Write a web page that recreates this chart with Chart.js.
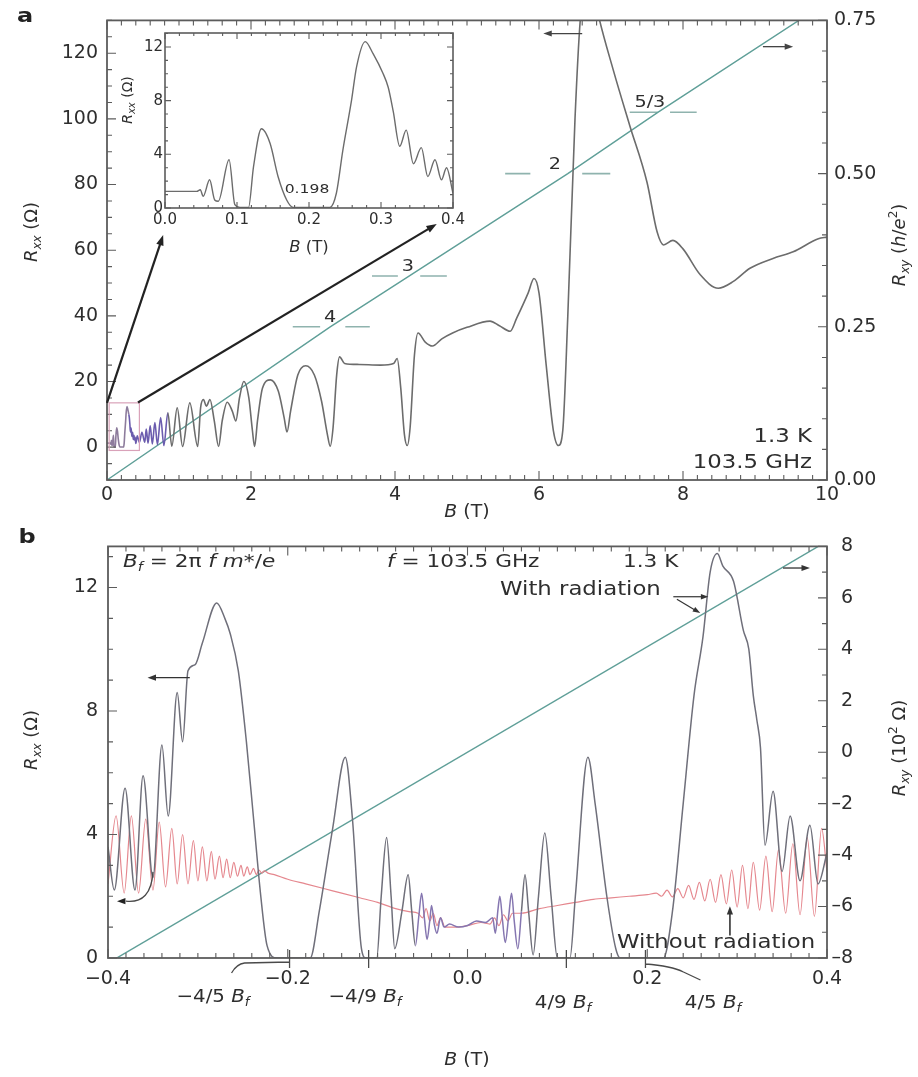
<!DOCTYPE html>
<html>
<head>
<meta charset="utf-8">
<title>Rxx and Rxy versus B with and without microwave radiation</title>
<script src="https://cdn.jsdelivr.net/npm/chart.js@4.4.0/dist/chart.umd.min.js"></script>
<style>
  body { margin: 0; background: #ffffff; }
  #wrap { position: relative; width: 918px; height: 1077px; }
  canvas { position: absolute; }
</style>
</head>
<body>
<div id="wrap">
  <canvas id="chartA" width="918" height="525" style="left:0;top:0"></canvas>
  <canvas id="inset" width="370" height="240" style="left:100px;top:20px"></canvas>
  <canvas id="chartB" width="918" height="552" style="left:0;top:525px"></canvas>
</div>
<script>
"use strict"

// ---- panel a, inset: Rxx (ohm) at low field B (T)
const insetB = [0, 0.02, 0.044, 0.049, 0.053, 0.062, 0.069, 0.074, 0.089, 0.097,
  0.104, 0.116, 0.123, 0.134, 0.146, 0.157, 0.169, 0.178, 0.229, 0.238,
  0.247, 0.259, 0.266, 0.278, 0.289, 0.303, 0.310, 0.317, 0.326, 0.335,
  0.345, 0.356, 0.365, 0.375, 0.384, 0.391, 0.400];
const insetR = [1.24, 1.24, 1.24, 1.36, 0.87, 2.1, 0.6, 0.5, 3.6, 0.25,
  0.05, 0.05, 3.1, 5.9, 4.8, 2.35, 0.6, 0.05, 0.05, 1.1,
  4.3, 8.0, 10.5, 12.4, 11.5, 10.0, 9.0, 7.2, 4.6, 5.8,
  3.3, 4.5, 2.35, 3.6, 2.1, 3.0, 1.1];

// ---- panel a: Rxx (ohm) above 0.4 T
const fieldB = [0.42, 0.45, 0.485, 0.525, 0.545, 0.57, 0.60, 0.63, 0.665, 0.70,
  0.745, 0.79, 0.845, 0.90, 0.975, 1.05, 1.15, 1.26, 1.30, 1.34,
  1.38, 1.43, 1.49, 1.55, 1.60, 1.67, 1.74, 1.79, 1.84, 1.90,
  1.97, 2.02, 2.05, 2.09, 2.16, 2.27, 2.38, 2.46, 2.50, 2.55,
  2.65, 2.76, 2.88, 2.98, 3.06, 3.10, 3.14, 3.19, 3.23, 3.30,
  3.50, 3.80, 3.98, 4.03, 4.08, 4.13, 4.17, 4.21, 4.27, 4.32,
  4.42, 4.52, 4.65, 4.80, 5.00, 5.32, 5.45, 5.60, 5.69, 5.85,
  5.93, 6.00, 6.10, 6.20, 6.27, 6.33, 6.40, 6.50, 6.58, 6.70,
  6.82, 7.03, 7.26, 7.50, 7.64, 7.73, 7.86, 8.00, 8.24, 8.49,
  8.70, 8.93, 9.25, 9.53, 9.88, 10.0];
const fieldR = [3.5, 1.5, 4.5, 1.5, 5.5, 1.2, 6.5, 1.0, 7.5, 0.8,
  9.0, 0.5, 10.5, 0.3, 12.0, 0.2, 13.5, 0.2, 12.0, 14.5,
  12.5, 14.5, 8.0, 0.2, 8.0, 13.7, 11.0, 8.0, 15.0, 20.0,
  15.0, 5.0, 0.2, 8.0, 18.0, 20.5, 17.0, 9.0, 4.6, 11.0,
  22.0, 24.8, 22.0, 14.0, 4.0, 0.3, 6.0, 22.0, 27.5, 25.5,
  25.2, 25.0, 25.5, 27.0, 18.0, 4.0, 0.5, 6.0, 28.0, 34.8,
  32.0, 30.8, 33.0, 34.8, 36.5, 38.4, 37.0, 35.3, 39.3, 47.0,
  51.4, 47.0, 25.0, 5.0, 0.5, 5.0, 40.0, 100.0, 132.0, 145.0,
  132.0, 115.0, 98.0, 80.7, 65.6, 61.6, 63.0, 60.4, 52.5, 48.4,
  50.5, 54.5, 57.5, 59.5, 63.5, 64.0];

// ---- panel a: Hall resistance (h/e^2)
const hallAB = [0, 3.1, 4.2, 6.4, 7.65, 10];
const hallAR = [0, 0.25, 0.333, 0.5, 0.6, 0.78];

// ---- panel a: quantum Hall plateau markers
const markerText = ["4", "3", "2", "5/3"];
const markerLevel = [0.25, 0.333, 0.5, 0.6];
const markerFrom = [2.58, 3.68, 5.53, 7.26];
const markerGapL = [2.96, 4.04, 5.88, 7.65];
const markerGapR = [3.31, 4.35, 6.60, 7.82];
const markerTo = [3.65, 4.72, 6.99, 8.19];
const markerTextB = [3.1, 4.18, 6.22, 7.54];

// ---- panel b: Rxx (ohm) with radiation
const withB = [-0.400, -0.393, -0.381, -0.370, -0.361, -0.350, -0.340, -0.333, -0.323, -0.317,
  -0.311, -0.303, -0.295, -0.279, -0.270, -0.264, -0.255, -0.246, -0.238, -0.230,
  -0.223, -0.212, -0.175, -0.165, -0.150, -0.136, -0.128, -0.118, -0.113, -0.101,
  -0.096, -0.090, -0.085, -0.081, -0.073, -0.066, -0.062, -0.058, -0.054, -0.051,
  -0.048, -0.045, -0.042, -0.040, -0.037, -0.034, -0.030, -0.026, -0.020, -0.010,
  0.000, 0.010, 0.020, 0.028, 0.031, 0.034, 0.036, 0.039, 0.042, 0.046,
  0.049, 0.052, 0.056, 0.060, 0.064, 0.068, 0.073, 0.079, 0.086, 0.093,
  0.100, 0.114, 0.120, 0.134, 0.142, 0.155, 0.165, 0.170, 0.218, 0.228,
  0.240, 0.252, 0.262, 0.270, 0.278, 0.284, 0.296, 0.307, 0.313, 0.318,
  0.322, 0.326, 0.331, 0.340, 0.350, 0.359, 0.370, 0.381, 0.390, 0.400];
const withR = [3.6, 2.2, 5.5, 2.2, 5.9, 2.6, 6.9, 4.6, 8.6, 7.0,
  9.3, 9.5, 10.2, 11.5, 11.0, 10.5, 9.3, 7.0, 4.5, 2.0,
  0.4, 0, 0, 1.5, 4.2, 6.5, 4.5, 0.3, 0, 0,
  2.0, 3.9, 2.0, 0.3, 1.5, 2.7, 1.5, 0.4, 1.4, 2.1,
  1.3, 0.6, 1.2, 1.7, 1.1, 0.8, 1.3, 1.0, 1.1, 1.0,
  1.05, 1.2, 1.15, 1.3, 0.8, 1.6, 2.0, 1.2, 0.5, 1.4,
  2.1, 1.2, 0.3, 1.5, 2.7, 1.5, 0.1, 2.0, 4.05, 2.0,
  0, 0, 2.0, 6.5, 5.0, 2.0, 0.3, 0, 0, 1.5,
  5.0, 8.5, 10.4, 12.5, 13.1, 12.7, 12.2, 10.6, 10.0, 8.5,
  7.7, 6.8, 3.65, 5.4, 2.8, 4.6, 2.5, 4.3, 2.4, 3.4];

// ---- panel b: Rxx (ohm) without radiation
const darkB = [-0.400, -0.391, -0.382, -0.374, -0.366, -0.358, -0.350, -0.343, -0.336, -0.329,
  -0.323, -0.317, -0.311, -0.305, -0.300, -0.295, -0.290, -0.285, -0.281, -0.276,
  -0.272, -0.268, -0.264, -0.260, -0.256, -0.252, -0.249, -0.245, -0.242, -0.238,
  -0.235, -0.232, -0.229, -0.226, -0.222, -0.215, -0.200, -0.180, -0.160, -0.140,
  -0.120, -0.100, -0.080, -0.065, -0.055, -0.050, -0.046, -0.042, -0.038, -0.034,
  -0.030, -0.025, -0.015, 0.000, 0.015, 0.025, 0.030, 0.035, 0.040, 0.045,
  0.050, 0.060, 0.080, 0.100, 0.120, 0.140, 0.160, 0.180, 0.200, 0.210,
  0.216, 0.222, 0.228, 0.234, 0.240, 0.246, 0.252, 0.258, 0.264, 0.270,
  0.276, 0.282, 0.288, 0.294, 0.300, 0.306, 0.312, 0.318, 0.325, 0.332,
  0.339, 0.346, 0.354, 0.362, 0.370, 0.378, 0.386, 0.394, 0.400];
const darkR = [2.4, 4.6, 2.1, 4.6, 2.1, 4.5, 2.2, 4.4, 2.3, 4.2,
  2.4, 4.0, 2.4, 3.8, 2.5, 3.6, 2.5, 3.45, 2.55, 3.3,
  2.6, 3.2, 2.6, 3.1, 2.65, 3.0, 2.65, 2.95, 2.7, 2.9,
  2.7, 2.85, 2.75, 2.82, 2.75, 2.7, 2.55, 2.4, 2.25, 2.1,
  1.95, 1.8, 1.6, 1.5, 1.45, 1.3, 1.6, 1.2, 1.45, 1.05,
  1.3, 1.0, 1.0, 1.05, 1.15, 1.1, 1.3, 1.05, 1.4, 1.2,
  1.45, 1.45, 1.6, 1.7, 1.8, 1.9, 1.95, 2.0, 2.05, 2.1,
  2.0, 2.2, 1.98, 2.25, 1.95, 2.35, 1.9, 2.45, 1.85, 2.55,
  1.8, 2.7, 1.75, 2.85, 1.65, 3.0, 1.6, 3.1, 1.55, 3.3,
  1.5, 3.5, 1.45, 3.7, 1.4, 3.9, 1.35, 4.2, 2.8];

// ---- panel b: Hall resistance (10^2 ohm)
const hallBB = [-0.40, 0.40];
const hallBR = [-8.2, 8.2];

// ---- tick labels
const aXTicks = [0, 2, 4, 6, 8, 10];
const aLeftTicks = [0, 20, 40, 60, 80, 100, 120];
const aRightTicks = [0, 0.25, 0.5, 0.75];
const insetXTicks = [0, 0.1, 0.2, 0.3, 0.4];
const insetYTicks = [0, 4, 8, 12];
const bXTicks = [-0.4, -0.2, 0, 0.2, 0.4];
const bLeftTicks = [0, 4, 8, 12];
const bRightTicks = [-8, -6, -4, -2, 0, 2, 4, 6, 8];
const fracB = [-0.198, -0.110, 0.110, 0.198];
const fracText = ["\u22124/5 ", "\u22124/9 ", "4/9 ", "4/5 "];

const FONT = "'DejaVu Sans', 'Liberation Sans', sans-serif";
const TEXT = "#2e2e2e";
const GRAY = "#6c6c6c";
const TEAL = "#5f9f98";
const PINK = "#e5878e";

Chart.defaults.font.family = FONT;
Chart.defaults.color = TEXT;

function pts(xs, ys) {
    return xs.map((v, i) => ({x: v, y: ys[i]}));
}

// minor tick positions
function steps(from, to, step) {
    const out = [];
    for (let v = from; v <= to + step / 1000; v += step) {
        out.push(Math.round(v * 1e6) / 1e6);
    }
    return out;
}

function minus(txt) {
    return txt.replace("-", "\u2212");
}

// shorter dash for the right axis, as in the print
function dash(txt) {
    return txt.replace("-", "\u2013");
}

function axis(min, max, values, fmt, size, pad, fit, extra) {
    const base = {
        type: "linear",
        min: min,
        max: max,
        grid: {display: false, drawTicks: false},
        border: {display: false},
        afterBuildTicks: s => { s.ticks = values.map(v => ({value: v})); },
        afterFit: fit,
        ticks: {autoSkip: false, maxRotation: 0, padding: pad, color: TEXT,
            font: {size: size, family: FONT}, callback: fmt}
    };
    if (extra && extra.crossAlign) base.ticks.crossAlign = extra.crossAlign;
    if (extra) base.position = extra.position;
    return base;
}

// text with italic / sub / superscript parts: [text, style]
// the printed figure is a little wide, so flat text gets a horizontal stretch
function rich(ctx, parts, x, y, opt) {
    const size = opt.size || 18;
    const sx = opt.stretch || (opt.rotate ? 1 : 1.2);
    const fontFor = st => (st.includes("i") ? "italic " : "") + (st.includes("b") ? "bold " : "") +
        ((st.includes("s") || st.includes("p")) ? Math.round(size * 0.68) : size) + "px " + FONT;
    let total = 0;
    parts.forEach(([t, st = ""]) => { ctx.font = fontFor(st); total += ctx.measureText(t).width; });
    ctx.save();
    ctx.translate(x, y);
    if (opt.rotate) ctx.rotate(opt.rotate);
    ctx.scale(sx, 1);
    let cx = opt.align === "center" ? -total / 2 : (opt.align === "right" ? -total : 0);
    ctx.textBaseline = "middle";
    ctx.textAlign = "left";
    ctx.fillStyle = opt.color || TEXT;
    parts.forEach(([t, st = ""]) => {
        ctx.font = fontFor(st);
        const dy = st.includes("s") ? size * 0.3 : (st.includes("p") ? -size * 0.35 : 0);
        ctx.fillText(t, cx, dy);
        cx += ctx.measureText(t).width;
    });
    ctx.restore();
}

function arrow(ctx, x1, y1, x2, y2, color, width, head) {
    const ang = Math.atan2(y2 - y1, x2 - x1);
    ctx.save();
    ctx.strokeStyle = color;
    ctx.fillStyle = color;
    ctx.lineWidth = width;
    ctx.beginPath();
    ctx.moveTo(x1, y1);
    ctx.lineTo(x2 - Math.cos(ang) * head * 0.6, y2 - Math.sin(ang) * head * 0.6);
    ctx.stroke();
    ctx.beginPath();
    ctx.moveTo(x2, y2);
    ctx.lineTo(x2 - head * Math.cos(ang - 0.35), y2 - head * Math.sin(ang - 0.35));
    ctx.lineTo(x2 - head * Math.cos(ang + 0.35), y2 - head * Math.sin(ang + 0.35));
    ctx.closePath();
    ctx.fill();
    ctx.restore();
}

// box round the plot with inward ticks on all four sides
const framePlugin = {
    id: "frame",
    beforeDatasetsDraw(chart, args, o) {
        if (!o.fill) return;
        const a = chart.chartArea;
        chart.ctx.save();
        chart.ctx.fillStyle = o.fill;
        chart.ctx.fillRect(a.left, a.top, a.right - a.left, a.bottom - a.top);
        chart.ctx.restore();
    },
    afterDatasetsDraw(chart, args, o) {
        const {ctx, chartArea: a, scales} = chart;
        const xs = scales.x, yl = scales.y, yr = scales[o.right] || scales.y;
        ctx.save();
        ctx.strokeStyle = "#5c5c5c";
        ctx.lineWidth = o.lineWidth;
        ctx.strokeRect(a.left, a.top, a.right - a.left, a.bottom - a.top);
        ctx.lineWidth = 1.1;
        ctx.beginPath();
        const vTick = (v, len) => {
            const p = xs.getPixelForValue(v);
            ctx.moveTo(p, a.bottom); ctx.lineTo(p, a.bottom - len);
            ctx.moveTo(p, a.top); ctx.lineTo(p, a.top + len);
        };
        const lTick = (v, len) => { const p = yl.getPixelForValue(v); ctx.moveTo(a.left, p); ctx.lineTo(a.left + len, p); };
        const rTick = (v, len) => { const p = yr.getPixelForValue(v); ctx.moveTo(a.right, p); ctx.lineTo(a.right - len, p); };
        o.xMinor.forEach(v => vTick(v, o.minor));
        o.xMajor.forEach(v => vTick(v, o.major));
        o.yMinor.forEach(v => lTick(v, o.minor));
        o.yMajor.forEach(v => lTick(v, o.major));
        o.rMinor.forEach(v => rTick(v, o.minor));
        o.rMajor.forEach(v => rTick(v, o.major));
        ctx.stroke();
        ctx.restore();
    }
};

// ---------------- panel a ----------------
const annotateA = {
    id: "annotateA",
    afterDraw(chart) {
        const {ctx, scales: {x, y, y2}} = chart;
        const px = b => x.getPixelForValue(b), py = r => y.getPixelForValue(r), py2 = r => y2.getPixelForValue(r);
        // zoomed region box
        ctx.save();
        ctx.strokeStyle = "#d9a2b9";
        ctx.lineWidth = 1.2;
        ctx.strokeRect(px(0.03), py(13.5), px(0.45) - px(0.03), py(-1) - py(13.5));
        ctx.restore();
        arrow(ctx, px(0.0), py(13.5), px(0.78), py(64.6), "#222", 2.2, 11);
        arrow(ctx, px(0.43), py(13.6), px(4.58), py(68), "#222", 2.2, 11);
        arrow(ctx, px(6.60), py(126), px(6.06), py(126), "#444", 1.3, 9);
        arrow(ctx, px(9.11), py(122), px(9.53), py(122), "#444", 1.3, 9);
        markerText.forEach((t, i) => {
            rich(ctx, [[t]], px(markerTextB[i]), py2(markerLevel[i]) - 9, {size: 16, align: "center"});
        });
        rich(ctx, [["a", "b"]], 25, 17, {size: 20, align: "center", color: "#222"});
        rich(ctx, [["R", "i"], ["xx", "is"], [" (\u03a9)"]], 32, 232, {size: 18, align: "center", rotate: -Math.PI / 2});
        rich(ctx, [["R", "i"], ["xy", "is"], [" ("], ["h", "i"], ["/"], ["e", "i"], ["2", "p"], [")"]], 900, 245,
            {size: 18, align: "center", rotate: -Math.PI / 2});
        rich(ctx, [["B", "i"], [" (T)"]], 467, 512, {size: 18, align: "center", stretch: 1.05});
        rich(ctx, [["1.3 K"]], 812, 437, {size: 19, align: "right"});
        rich(ctx, [["103.5 GHz"]], 812, 463, {size: 19, align: "right"});
    }
};

const lowColour = ctx => {
    const b = ctx.p0.parsed.x;
    if (b < 0.3) return "#8d7c9c";
    if (b < 0.8) return "#6b5cae";
    return GRAY;
};

const markerSets = markerText.map((t, i) => ({
    data: [
        {x: markerFrom[i], y: markerLevel[i]}, {x: markerGapL[i], y: markerLevel[i]},
        {x: markerGapL[i], y: null},
        {x: markerGapR[i], y: markerLevel[i]}, {x: markerTo[i], y: markerLevel[i]}
    ],
    yAxisID: "y2",
    showLine: true,
    spanGaps: false,
    borderColor: "#8fb3ae",
    borderWidth: 1.6,
    pointRadius: 0
}));

new Chart(document.getElementById("chartA"), {
    type: "scatter",
    data: {
        datasets: [
            {
                data: pts(insetB.concat(fieldB), insetR.concat(fieldR)),
                yAxisID: "y",
                showLine: true,
                borderColor: GRAY,
                borderWidth: 1.6,
                pointRadius: 0,
                cubicInterpolationMode: "monotone",
                segment: {borderColor: lowColour}
            },
            {
                data: pts(hallAB, hallAR),
                yAxisID: "y2",
                showLine: true,
                borderColor: TEAL,
                borderWidth: 1.4,
                pointRadius: 0
            }
        ].concat(markerSets)
    },
    options: {
        responsive: false,
        animation: false,
        layout: {padding: {top: 15, left: 0, right: 0, bottom: 0}},
        plugins: {
            legend: {display: false},
            tooltip: {enabled: false},
            frame: {
                lineWidth: 1.8, major: 9, minor: 5, right: "y2",
                xMajor: aXTicks, xMinor: steps(0, 10, 0.2),
                yMajor: aLeftTicks, yMinor: steps(-10, 130, 5),
                rMajor: aRightTicks, rMinor: steps(0, 0.75, 0.05)
            }
        },
        scales: {
            x: axis(0, 10, aXTicks, v => String(v), 19, 4, s => { s.height = 45; }, {position: "bottom"}),
            y: axis(-10, 130, aLeftTicks, v => String(v), 19, 9, s => { s.width = 107; }, {position: "left"}),
            y2: axis(0, 0.75, aRightTicks, v => v.toFixed(2), 19, 7, s => { s.width = 91; }, {position: "right"})
        }
    },
    plugins: [framePlugin, annotateA]
});

// ---------------- panel a inset ----------------
const annotateInset = {
    id: "annotateInset",
    afterDraw(chart) {
        const ctx = chart.ctx;
        rich(ctx, [["R", "i"], ["xx", "is"], [" (\u03a9)"]], 28, 80, {size: 14, align: "center", rotate: -Math.PI / 2});
        rich(ctx, [["B", "i"], [" (T)"]], 209, 228, {size: 15, align: "center", stretch: 1.1});
        rich(ctx, [["0.198"]], 207, 170, {size: 13, align: "center"});
    }
};

new Chart(document.getElementById("inset"), {
    type: "scatter",
    data: {
        datasets: [{
            data: pts(insetB, insetR),
            showLine: true,
            borderColor: GRAY,
            borderWidth: 1.4,
            pointRadius: 0,
            cubicInterpolationMode: "monotone"
        }]
    },
    options: {
        responsive: false,
        animation: false,
        layout: {padding: {top: 13, left: 0, right: 17, bottom: 0}},
        plugins: {
            legend: {display: false},
            tooltip: {enabled: false},
            frame: {
                fill: "#ffffff", lineWidth: 1.6, major: 6, minor: 3, right: "y",
                xMajor: insetXTicks, xMinor: steps(0, 0.4, 0.02),
                yMajor: insetYTicks, yMinor: steps(0, 13, 1),
                rMajor: insetYTicks, rMinor: steps(0, 13, 1)
            }
        },
        scales: {
            x: axis(0, 0.4, insetXTicks, v => v.toFixed(1), 15, 3, s => { s.height = 52; }, {position: "bottom"}),
            y: axis(0, 13.04, insetYTicks, v => String(v), 15, 2, s => { s.width = 65; }, {position: "left"})
        }
    },
    plugins: [framePlugin, annotateInset]
});

// ---------------- panel b ----------------
const annotateB = {
    id: "annotateB",
    afterDraw(chart) {
        const {ctx, chartArea: a, scales: {x, y}} = chart;
        const px = b => x.getPixelForValue(b), py = r => y.getPixelForValue(r);
        // ticks marking fractions of B_f, crossing the axis
        ctx.save();
        ctx.strokeStyle = "#4a4a4a";
        ctx.lineWidth = 1.3;
        ctx.beginPath();
        fracB.forEach(b => { ctx.moveTo(px(b), a.bottom - 8); ctx.lineTo(px(b), a.bottom + 10); });
        const pl = px(-0.198), pr = px(0.198);
        ctx.moveTo(pl, a.bottom + 4);
        ctx.lineTo(pl - 45, a.bottom + 5);
        ctx.quadraticCurveTo(pl - 53, a.bottom + 6, pl - 58, a.bottom + 15);
        ctx.moveTo(pr, a.bottom + 6);
        ctx.quadraticCurveTo(pr + 26, a.bottom + 8, pr + 38, a.bottom + 14);
        ctx.lineTo(pr + 55, a.bottom + 22);
        // curved arrow to the dark trace
        ctx.moveTo(px(-0.350), py(2.79));
        ctx.quadraticCurveTo(px(-0.352), py(1.75), px(-0.380), py(1.84));
        ctx.stroke();
        ctx.restore();
        arrow(ctx, px(-0.381), py(1.84), px(-0.390), py(1.84), "#222", 1.4, 9);
        arrow(ctx, px(-0.309), py(9.08), px(-0.356), py(9.08), "#333", 1.3, 9);
        arrow(ctx, px(0.351), py(12.63), px(0.381), py(12.63), "#333", 1.3, 9);
        arrow(ctx, px(0.229), py(11.7), px(0.268), py(11.7), "#333", 1.2, 8);
        arrow(ctx, px(0.233), py(11.62), px(0.259), py(11.17), "#333", 1.2, 8);
        arrow(ctx, px(0.292), py(0.73), px(0.292), py(1.68), "#333", 1.6, 9);
        fracB.forEach((b, i) => {
            const yy = b < 0 ? a.bottom + 39 : a.bottom + 45;
            const cx = [213, 365, 563, 713][i];
            rich(ctx, [[fracText[i]], ["B", "i"], ["f", "is"]], cx, yy, {size: 18, align: "center", stretch: 1.1});
        });
        rich(ctx, [["b", "b"]], 27, 13, {size: 20, align: "center", color: "#222"});
        rich(ctx, [["B", "i"], ["f", "is"], [" = 2\u03c0 "], ["f", "i"], [" "], ["m", "i"], ["*/"], ["e", "i"]], 123, 37, {size: 18});
        rich(ctx, [["f", "i"], [" = 103.5 GHz"]], 387, 37, {size: 18});
        rich(ctx, [["1.3 K"]], 623, 37, {size: 18});
        rich(ctx, [["With radiation"]], 500, 65, {size: 19});
        rich(ctx, [["Without radiation"]], 617, 418, {size: 19});
        rich(ctx, [["R", "i"], ["xx", "is"], [" (\u03a9)"]], 32, 215, {size: 18, align: "center", rotate: -Math.PI / 2});
        rich(ctx, [["R", "i"], ["xy", "is"], [" (10"], ["2", "p"], [" \u03a9)"]], 900, 223,
            {size: 18, align: "center", rotate: -Math.PI / 2});
        rich(ctx, [["B", "i"], [" (T)"]], 467, 535, {size: 18, align: "center", stretch: 1.05});
    }
};

const centreColour = ctx => (Math.abs(ctx.p0.parsed.x) < 0.06 ? "#8576b0" : "#6f6f7a");

new Chart(document.getElementById("chartB"), {
    type: "scatter",
    data: {
        datasets: [
            {
                data: pts(withB, withR),
                yAxisID: "y",
                showLine: true,
                borderColor: "#6f6f7a",
                borderWidth: 1.5,
                pointRadius: 0,
                cubicInterpolationMode: "monotone",
                segment: {borderColor: centreColour}
            },
            {
                data: pts(darkB, darkR),
                yAxisID: "y",
                showLine: true,
                borderColor: PINK,
                borderWidth: 1.2,
                pointRadius: 0,
                cubicInterpolationMode: "monotone"
            },
            {
                data: pts(hallBB, hallBR),
                yAxisID: "y2",
                showLine: true,
                borderColor: TEAL,
                borderWidth: 1.4,
                pointRadius: 0
            }
        ]
    },
    options: {
        responsive: false,
        animation: false,
        // right padding leaves room for the axis title; labels are right-aligned inside a narrow axis box
        layout: {padding: {top: 13, left: 0, right: 65, bottom: 0}},
        plugins: {
            legend: {display: false},
            tooltip: {enabled: false},
            frame: {
                lineWidth: 1.8, major: 9, minor: 5, right: "y2",
                xMajor: bXTicks, xMinor: steps(-0.4, 0.4, 0.02),
                yMajor: bLeftTicks, yMinor: steps(0, 13, 1),
                rMajor: bRightTicks, rMinor: steps(-8, 8, 1)
            }
        },
        scales: {
            x: axis(-0.4, 0.4, bXTicks, v => minus(v.toFixed(1)), 19, 10, s => { s.height = 119; }, {position: "bottom"}),
            y: axis(0, 13.33, bLeftTicks, v => String(v), 19, 10, s => { s.width = 108; }, {position: "left"}),
            y2: axis(-8, 8, bRightTicks, v => dash(String(v)), 19, 6, s => { s.width = 26; },
                {position: "right", crossAlign: "far"})
        }
    },
    plugins: [framePlugin, annotateB]
});
</script>
</body>
</html>
